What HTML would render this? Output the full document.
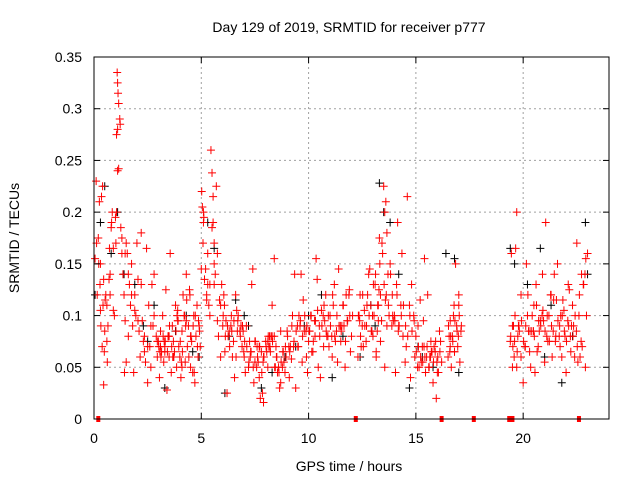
<!DOCTYPE html>
<html><head><meta charset="utf-8"><style>
body{margin:0;background:#fff}
svg{display:block;font-family:"Liberation Sans",sans-serif}
</style></head><body>
<svg id="chart" width="640" height="480" viewBox="0 0 640 480" xmlns="http://www.w3.org/2000/svg">
<rect width="640" height="480" fill="#fff"/>
<g id="grid"></g>
<g id="pts"></g>
<rect x="94" y="57" width="515" height="362" fill="none" stroke="#000" stroke-width="1"/>
<g id="ticks"></g>
<text x="349" y="32" font-size="14" text-anchor="middle">Day 129 of 2019, SRMTID for receiver p777</text>
<text x="349" y="471" font-size="14" text-anchor="middle">GPS time / hours</text>
<text x="19" y="238" font-size="14" text-anchor="middle" transform="rotate(-90 19 238)">SRMTID / TECUs</text>
</svg>
<script>
const xTicks=[0,5,10,15,20];
const yTicks=[0,0.05,0.1,0.15,0.2,0.25,0.3,0.35];
const yTickLabels=["0","0.05","0.1","0.15","0.2","0.25","0.3","0.35"];
const zeroHours=[0.2,12.2,16.2,17.7,19.35,19.5,22.6];
const blackHours=[0.05,0.3,0.5,0.8,1.1,1.4,1.9,2.3,2.8,3.3,3.8,4.3,4.9,5.3,5.6,6.1,6.6,7.2,7.8,8.3,8.9,9.4,10.0,10.6,11.1,11.6,12.4,12.9,13.3,13.5,13.8,14.2,14.7,15.3,15.8,16.4,16.8,17.0,19.4,19.6,20.2,20.8,21.3,21.8,22.3,22.9,23.0,2.5,4.6,7.0,9.8,13.1,15.1,21.0,6.3];
const blackValues=[0.12,0.19,0.225,0.16,0.2,0.14,0.13,0.09,0.11,0.03,0.085,0.1,0.06,0.19,0.165,0.025,0.115,0.09,0.03,0.045,0.06,0.07,0.1,0.12,0.04,0.08,0.06,0.11,0.228,0.2,0.19,0.14,0.03,0.06,0.05,0.16,0.155,0.045,0.165,0.15,0.13,0.165,0.11,0.035,0.08,0.19,0.14,0.075,0.065,0.1,0.09,0.09,0.07,0.06,0.08];
const redHours=[0.05,0.1,0.12,0.15,0.2,0.22,0.25,0.28,0.3,0.32,0.35,0.38,0.4,0.42,0.45,0.48,0.5,0.52,0.55,0.6,0.62,0.65,0.7,0.72,0.75,0.8,0.82,0.85,0.9,0.95,
1.0,1.02,1.05,1.08,1.1,1.1,1.12,1.15,1.05,1.1,1.2,1.15,1.22,1.25,1.3,1.35,1.4,1.42,1.45,1.5,1.5,
1.55,1.6,1.65,1.7,1.75,1.8,1.85,1.9,1.95,2.0,2.05,2.1,2.15,2.2,2.25,2.3,2.35,2.4,2.45,2.5,2.55,2.6,2.65,2.7,2.75,2.8,2.9,2.95,
3.0,3.05,3.1,3.15,3.2,3.25,3.3,3.35,3.4,3.45,3.5,3.55,3.6,3.65,3.7,3.75,3.8,3.85,3.9,3.95,4.0,4.05,4.1,4.15,4.2,4.25,4.3,4.35,4.4,4.45,4.5,4.55,4.6,4.65,4.7,4.75,4.8,4.85,4.9,4.95,3.1,3.3,3.5,3.7,3.9,4.1,4.3,4.5,
5.0,5.02,5.05,5.08,5.1,5.12,5.15,5.2,5.25,5.3,5.3,5.35,5.4,5.45,5.5,5.55,5.6,5.65,5.7,5.75,5.8,5.85,5.9,5.95,5.5,5.55,5.6,
6.0,6.1,6.2,6.3,6.4,6.5,6.6,6.7,6.8,6.9,7.0,7.1,7.2,7.3,7.4,7.5,7.6,7.7,7.8,7.9,8.0,8.1,8.2,8.3,8.4,8.5,8.6,8.7,8.8,8.9,9.0,
6.05,6.25,6.45,6.65,6.85,7.05,7.25,7.45,7.65,7.85,8.05,8.25,8.45,8.65,8.85,6.15,6.55,6.95,7.35,7.75,8.15,8.55,8.95,7.5,7.9,8.3,8.7,
9.1,9.2,9.3,9.4,9.5,9.6,9.7,9.8,9.9,10.0,10.1,10.2,10.3,10.4,10.5,10.6,10.7,10.8,10.9,11.0,11.1,11.2,11.3,11.4,11.5,11.6,11.7,11.8,11.9,12.0,
9.15,9.35,9.55,9.75,9.95,10.15,10.35,10.55,10.75,10.95,11.15,11.35,11.55,11.75,11.95,9.25,9.65,10.05,10.45,10.85,11.25,11.65,12.05,
12.3,12.4,12.5,12.6,12.7,12.8,12.9,13.0,13.05,13.1,13.15,13.2,13.25,13.3,13.35,13.4,13.45,13.5,13.55,13.6,13.65,13.7,13.8,13.9,14.0,14.1,14.2,14.3,14.4,
12.35,12.55,12.75,12.95,13.15,13.35,13.55,13.75,13.95,14.15,14.35,12.45,12.85,13.25,13.65,14.05,
14.5,14.6,14.7,14.8,14.9,15.0,15.1,15.2,15.3,15.4,15.5,15.6,15.7,15.8,15.9,16.0,16.1,16.2,14.55,14.75,14.95,15.15,15.35,15.55,15.75,15.95,16.15,15.25,15.65,16.05,
16.5,16.55,16.6,16.65,16.7,16.75,16.8,16.85,16.9,16.95,17.0,17.05,17.1,16.6,16.8,17.0,
19.4,19.45,19.5,19.55,19.6,19.65,19.7,19.75,19.8,19.9,20.0,20.1,20.2,20.3,20.4,20.5,20.6,20.7,20.8,20.9,21.0,21.1,21.2,21.3,21.4,21.5,21.6,21.7,21.8,21.9,22.0,22.1,22.2,22.3,22.4,22.5,22.6,22.7,22.8,22.9,23.0,
19.5,19.7,19.9,20.15,20.35,20.55,20.75,20.95,21.15,21.35,21.55,21.75,21.95,22.15,22.35,22.55,22.75,22.95,20.25,20.65,21.05,21.45,21.85,22.25,22.65];
const redValues=[0.155,0.23,0.17,0.12,0.175,0.15,0.21,0.13,0.105,0.09,0.215,0.07,0.225,0.11,0.033,0.065,0.085,0.115,0.12,0.075,0.055,0.09,0.135,0.165,0.14,0.185,0.19,0.2,0.105,0.1,
0.195,0.17,0.2,0.335,0.325,0.28,0.315,0.305,0.275,0.24,0.29,0.242,0.285,0.185,0.16,0.14,0.12,0.045,0.095,0.055,0.17,
0.16,0.08,0.13,0.11,0.15,0.09,0.045,0.12,0.1,0.17,0.135,0.085,0.06,0.18,0.095,0.075,0.065,0.055,0.165,0.035,0.11,0.07,0.05,0.13,0.09,0.14,0.08,0.06,
0.075,0.04,0.085,0.065,0.1,0.055,0.07,0.125,0.028,0.08,0.06,0.16,0.045,0.09,0.075,0.065,0.11,0.05,0.095,0.07,0.06,0.04,0.085,0.12,0.1,0.055,0.14,0.07,0.09,0.125,0.05,0.075,0.045,0.1,0.035,0.08,0.11,0.06,0.09,0.07,0.07,0.065,0.08,0.06,0.105,0.05,0.095,0.08,
0.145,0.22,0.205,0.17,0.2,0.195,0.135,0.145,0.12,0.16,0.13,0.11,0.1,0.26,0.238,0.215,0.17,0.14,0.225,0.095,0.08,0.115,0.06,0.13,0.185,0.19,0.15,
0.09,0.065,0.025,0.085,0.1,0.075,0.12,0.095,0.085,0.07,0.06,0.09,0.05,0.065,0.145,0.055,0.07,0.04,0.065,0.06,0.075,0.05,0.07,0.08,0.155,0.06,0.05,0.035,0.065,0.045,0.085,
0.12,0.08,0.06,0.105,0.09,0.045,0.075,0.035,0.055,0.025,0.065,0.08,0.05,0.03,0.055,0.095,0.04,0.085,0.13,0.02,0.07,0.045,0.06,0.075,0.016,0.11,0.085,0.04,0.058,0.07,0.03,
0.07,0.09,0.055,0.085,0.06,0.075,0.1,0.065,0.08,0.135,0.09,0.105,0.07,0.12,0.08,0.1,0.06,0.13,0.085,0.145,0.075,0.11,0.05,0.095,0.125,0.08,0.07,0.14,0.1,0.115,
0.045,0.065,0.155,0.04,0.095,0.07,0.11,0.055,0.09,0.12,0.065,0.1,0.14,0.085,0.05,0.08,0.075,0.09,0.1,0.06,0.12,0.09,0.105,
0.09,0.14,0.11,0.08,0.1,0.13,0.065,0.085,0.11,0.175,0.12,0.095,0.16,0.225,0.2,0.21,0.18,0.14,0.15,0.12,0.1,0.13,0.09,0.11,0.08,0.1,0.07,0.12,0.085,
0.06,0.075,0.05,0.1,0.095,0.19,0.16,0.07,0.145,0.095,0.09,0.045,0.055,0.215,0.11,0.13,
0.1,0.08,0.09,0.115,0.07,0.155,0.06,0.05,0.075,0.035,0.065,0.045,0.085,0.055,0.07,0.04,0.06,0.05,0.095,0.12,0.065,0.02,0.075,0.055,0.06,0.045,0.06,0.08,0.07,0.05,
0.08,0.1,0.065,0.15,0.09,0.07,0.11,0.055,0.085,0.095,0.065,0.12,0.075,0.16,0.05,0.09,
0.075,0.165,0.05,0.08,0.09,0.06,0.035,0.07,0.1,0.065,0.085,0.11,0.13,0.07,0.095,0.14,0.055,0.08,0.1,0.12,0.085,0.075,0.15,0.09,0.06,0.105,0.045,0.13,0.08,0.11,0.06,0.17,0.1,0.075,0.13,0.05,0.16,0.09,0.2,0.12,0.15,
0.05,0.045,0.085,0.095,0.075,0.06,0.115,0.1,0.08,0.125,0.09,0.055,0.07,0.1,0.085,0.065,0.19,0.14,0.115,0.09,0.06,0.1,0.035,0.045,0.175];
const denseHours=[0.3,0.45,0.6,0.75,0.9,1.3,1.45,1.6,1.75,1.9,2.05,2.2,2.35,2.5,2.65,2.8,2.95,
3.02,3.12,3.22,3.32,3.42,3.52,3.62,3.72,3.82,3.92,4.02,4.12,4.22,4.32,4.42,4.52,4.62,4.72,4.82,4.92,3.07,3.27,3.47,3.67,3.87,4.07,4.27,4.47,4.67,4.87,
5.1,5.25,5.4,5.6,5.75,5.9,
6.02,6.12,6.22,6.32,6.42,6.52,6.62,6.72,6.82,6.92,7.02,7.12,7.22,7.32,7.42,7.52,7.62,7.72,7.82,7.92,8.02,8.12,8.22,8.32,8.42,8.52,8.62,8.72,8.82,8.92,6.08,6.38,6.68,6.98,7.28,7.58,7.88,8.18,8.48,8.78,7.7,8.1,8.4,
9.02,9.12,9.22,9.32,9.42,9.52,9.62,9.72,9.82,9.92,10.02,10.12,10.22,10.32,10.42,10.52,10.62,10.72,10.82,10.92,11.02,11.12,11.22,11.32,11.42,11.52,11.62,11.72,11.82,11.92,9.08,9.48,9.88,10.28,10.68,11.08,11.48,11.88,
12.32,12.42,12.52,12.62,12.72,12.82,12.92,13.02,13.12,13.22,13.32,13.42,13.52,13.62,13.72,13.82,13.92,14.02,14.12,14.22,14.32,14.42,12.38,12.68,12.98,13.28,13.58,13.88,14.18,
14.52,14.62,14.72,14.82,14.92,15.02,15.12,15.22,15.32,15.42,15.52,15.62,15.72,15.82,15.92,16.02,16.12,15.08,15.38,15.68,15.98,15.45,15.85,
16.52,16.62,16.72,16.82,16.92,17.02,17.12,16.58,16.78,16.98,
19.42,19.52,19.62,19.72,19.82,19.92,20.02,20.12,20.22,20.32,20.42,20.52,20.62,20.72,20.82,20.92,21.02,21.12,21.22,21.32,21.42,21.52,21.62,21.72,21.82,21.92,22.02,22.12,22.22,22.32,22.42,22.52,22.62,22.72,22.82,22.92,19.58,19.78,20.08,20.48,20.88,21.28,21.68,22.08,22.48,22.88];
const denseValues=[0.15,0.135,0.11,0.12,0.165,0.175,0.16,0.14,0.12,0.105,0.095,0.13,0.08,0.07,0.09,0.1,0.075,
0.07,0.06,0.08,0.075,0.065,0.09,0.07,0.06,0.085,0.095,0.075,0.065,0.1,0.115,0.06,0.08,0.09,0.1,0.07,0.085,0.065,0.075,0.08,0.06,0.1,0.055,0.09,0.12,0.045,0.095,
0.19,0.115,0.13,0.13,0.16,0.11,
0.1,0.08,0.09,0.07,0.085,0.095,0.06,0.1,0.08,0.09,0.075,0.07,0.055,0.065,0.05,0.075,0.06,0.07,0.045,0.06,0.07,0.08,0.065,0.075,0.05,0.06,0.045,0.055,0.065,0.07,0.11,0.09,0.085,0.065,0.06,0.05,0.055,0.08,0.07,0.05,0.07,0.075,0.08,
0.08,0.065,0.09,0.075,0.085,0.07,0.095,0.08,0.1,0.09,0.085,0.1,0.075,0.095,0.105,0.08,0.09,0.11,0.085,0.1,0.09,0.12,0.08,0.1,0.09,0.085,0.11,0.075,0.095,0.1,0.07,0.09,0.085,0.095,0.1,0.08,0.09,0.12,
0.1,0.08,0.12,0.09,0.11,0.1,0.085,0.13,0.14,0.11,0.15,0.17,0.13,0.12,0.11,0.14,0.1,0.095,0.12,0.09,0.1,0.11,0.095,0.075,0.1,0.125,0.115,0.09,0.085,
0.09,0.08,0.1,0.085,0.095,0.065,0.07,0.06,0.055,0.06,0.07,0.05,0.065,0.055,0.075,0.06,0.065,0.05,0.07,0.06,0.055,0.045,0.07,
0.09,0.08,0.075,0.095,0.085,0.1,0.09,0.065,0.11,0.08,
0.08,0.07,0.1,0.065,0.085,0.095,0.075,0.09,0.12,0.085,0.1,0.08,0.11,0.095,0.09,0.105,0.085,0.1,0.075,0.09,0.115,0.08,0.095,0.07,0.1,0.085,0.075,0.09,0.065,0.08,0.1,0.07,0.12,0.14,0.13,0.155,0.06,0.09,0.07,0.085,0.1,0.12,0.08,0.095,0.085,0.14];
const X0=94,X1=609,Y0=419,Y1=57,XMAX=24,YMAX=0.35;
function xs(h){return X0+(X1-X0)*h/XMAX;}
function ys(v){return Y0-(Y0-Y1)*v/YMAX;}
const NS="http://www.w3.org/2000/svg";
function mk(tag,attrs,parent){const e=document.createElementNS(NS,tag);for(const k in attrs)e.setAttribute(k,attrs[k]);parent.appendChild(e);return e;}
const grid=document.getElementById('grid'),ticks=document.getElementById('ticks'),pts=document.getElementById('pts');
xTicks.forEach(t=>{const x=xs(t);
 if(t>0){const g=mk('line',{x1:x,x2:x,y1:Y1,y2:Y0,stroke:'#a0a0a0','stroke-dasharray':'2,3'},grid);
 
 }
 mk('line',{x1:x,x2:x,y1:Y0,y2:Y0-6,stroke:'#000'},ticks);mk('line',{x1:x,x2:x,y1:Y1,y2:Y1+6,stroke:'#000'},ticks);
 const l=mk('text',{x:x,y:443,'font-size':14,'text-anchor':'middle'},ticks);l.textContent=t;
 
 });
yTicks.forEach((t,i)=>{const y=ys(t);
 if(t>0&&t<YMAX){const g=mk('line',{x1:X0,x2:X1,y1:y,y2:y,stroke:'#a0a0a0','stroke-dasharray':'2,3'},grid);
 
 }
 mk('line',{x1:X0,x2:X0+6,y1:y,y2:y,stroke:'#000'},ticks);mk('line',{x1:X1,x2:X1-6,y1:y,y2:y,stroke:'#000'},ticks);
 const l=mk('text',{x:82,y:y+5,'font-size':14,'text-anchor':'end'},ticks);l.textContent=yTickLabels[i];
 
 });
function cross(h,v,col,name){const x=xs(h),y=ys(v);
 const p=mk('path',{d:`M${x-4},${y}H${x+4}M${x},${y-4}V${y+4}`,stroke:col,'stroke-width':1,fill:'none'},pts);
 
 }
blackHours.forEach((h,i)=>cross(h,blackValues[i],'#000','black-point'));
redHours.forEach((h,i)=>cross(h,redValues[i],'#f00','red-point'));
denseHours.forEach((h,i)=>cross(h,denseValues[i],'#f00','red-point'));
zeroHours.forEach(h=>{const r=mk('rect',{x:xs(h)-2,y:Y0-3,width:4,height:6,fill:'#f00'},pts);
 
 });
</script>
</body></html>
